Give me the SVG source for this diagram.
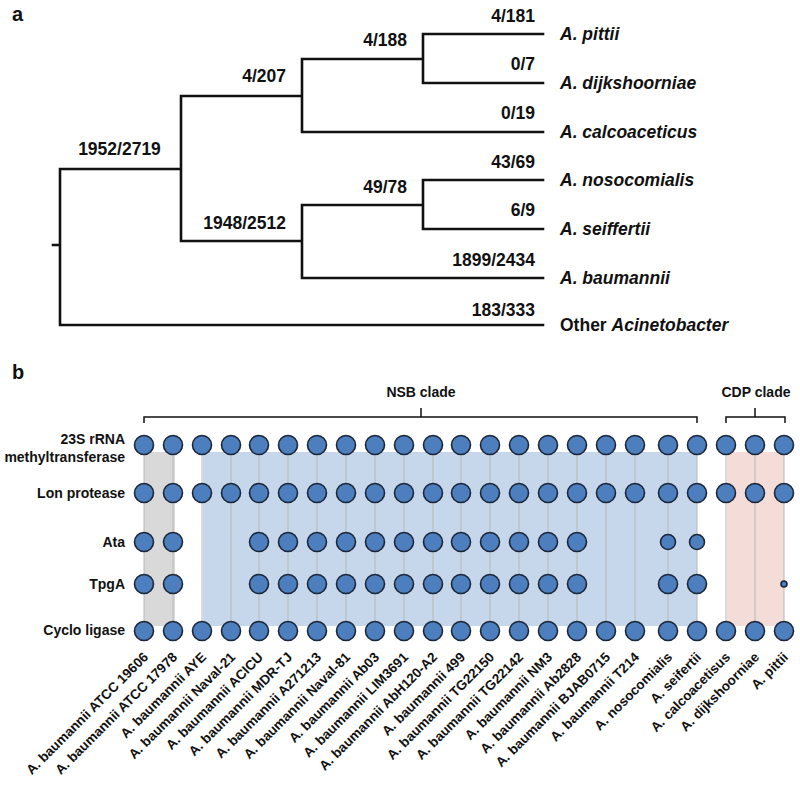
<svg xmlns="http://www.w3.org/2000/svg" width="800" height="787" viewBox="0 0 800 787">
<style>
text{font-family:"Liberation Sans",Arial,sans-serif;font-weight:bold;fill:#111}
.t{font-size:17.5px}
.sp{font-size:17.5px;font-style:italic}
.num{font-size:17.5px;text-anchor:end}
.panel{font-size:20px}
.row{font-size:14px;text-anchor:end}
.clade{font-size:14px;text-anchor:middle}
.col{font-size:13.5px;text-anchor:end}
.br{fill:none;stroke:#111;stroke-width:2.6;stroke-linecap:square}
.bk{fill:none;stroke:#111;stroke-width:1.5}
.vl{stroke:#b8b8b8;stroke-width:1}
.dot{fill:#4d7fbf;stroke:#1b2638;stroke-width:1.6}
</style>

<text class="panel" x="12" y="21">a</text>
<text class="panel" x="12" y="379">b</text>

<g id="tree">
<path class="br" d="M53,245H60M60,169V325M60,169H181M181,96V241M181,96H302M181,241H302M302,59V132M302,59H423M302,132H543M423,34V83M423,34H543M423,83H543M302,205V278M302,205H423M302,278H543M423,180V229M423,180H543M423,229H543M60,325H543"/>
</g>

<g id="tree-labels">
<text class="t" x="119.5" y="155" text-anchor="middle">1952/2719</text>
<text class="num" x="286" y="82">4/207</text>
<text class="num" x="286" y="229">1948/2512</text>
<text class="num" x="407" y="46">4/188</text>
<text class="num" x="407" y="193">49/78</text>
<text class="num" x="535" y="22">4/181</text>
<text class="num" x="535" y="70">0/7</text>
<text class="num" x="535" y="119">0/19</text>
<text class="num" x="535" y="168">43/69</text>
<text class="num" x="535" y="216">6/9</text>
<text class="num" x="535" y="266">1899/2434</text>
<text class="num" x="535" y="316">183/333</text>
</g>

<g id="species">
<text class="sp" x="560" y="40">A. pittii</text>
<text class="sp" x="560" y="89">A. dijkshoorniae</text>
<text class="sp" x="560" y="138">A. calcoaceticus</text>
<text class="sp" x="560" y="186">A. nosocomialis</text>
<text class="sp" x="560" y="235">A. seiffertii</text>
<text class="sp" x="560" y="284">A. baumannii</text>
<text class="t" x="560" y="331">Other <tspan font-style="italic">Acinetobacter</tspan></text>
</g>

<g id="shading">
<rect x="144" y="452" width="31" height="174" fill="#d9d9d9"/>
<rect x="203" y="452" width="494" height="174" fill="#c6d6eb"/>
<rect x="727" y="452" width="57" height="174" fill="#f4dcd8"/>
</g>

<g id="brackets">
<path class="bk" d="M144,423V417H697V423M421,417V408"/>
<path class="bk" d="M726,423V417H785V423M755,417V408"/>
<text class="clade" x="421" y="397">NSB clade</text>
<text class="clade" x="756" y="397">CDP clade</text>
</g>

<g id="row-labels">
<text class="row" x="125" y="444">23S rRNA</text>
<text class="row" x="125" y="462">methyltransferase</text>
<text class="row" x="125" y="498">Lon protease</text>
<text class="row" x="125" y="547">Ata</text>
<text class="row" x="125" y="589">TpgA</text>
<text class="row" x="125" y="635">Cyclo ligase</text>
</g>

<g id="connectors">
<path class="vl" d="M144,445V631M173,445V631M202,445V631M231,445V631M259,445V631M288,445V631M317,445V631M346,445V631M375,445V631M404,445V631M433,445V631M461,445V631M490,445V631M519,445V631M548,445V631M577,445V631M606,445V631M635,445V631M668,445V631M697,445V631M726,445V631M755,445V631M784,445V631"/>
</g>

<defs>
<g id="col5">
<circle class="dot" cx="0" cy="445" r="9.5"/>
<circle class="dot" cx="0" cy="493" r="9.5"/>
<circle class="dot" cx="0" cy="542" r="9.5"/>
<circle class="dot" cx="0" cy="584" r="9.5"/>
<circle class="dot" cx="0" cy="631" r="9.5"/>
</g>
<g id="col3">
<circle class="dot" cx="0" cy="445" r="9.5"/>
<circle class="dot" cx="0" cy="493" r="9.5"/>
<circle class="dot" cx="0" cy="631" r="9.5"/>
</g>
</defs>

<g id="dots">
<use href="#col5" x="144"/>
<use href="#col5" x="173"/>
<use href="#col3" x="202"/>
<use href="#col3" x="231"/>
<use href="#col5" x="259"/>
<use href="#col5" x="288"/>
<use href="#col5" x="317"/>
<use href="#col5" x="346"/>
<use href="#col5" x="375"/>
<use href="#col5" x="404"/>
<use href="#col5" x="433"/>
<use href="#col5" x="461"/>
<use href="#col5" x="490"/>
<use href="#col5" x="519"/>
<use href="#col5" x="548"/>
<use href="#col5" x="577"/>
<use href="#col3" x="606"/>
<use href="#col3" x="635"/>
<use href="#col3" x="668"/>
<circle class="dot" cx="668" cy="542" r="7.5"/>
<circle class="dot" cx="668" cy="584" r="9.5"/>
<use href="#col3" x="697"/>
<circle class="dot" cx="697" cy="542" r="7.5"/>
<circle class="dot" cx="697" cy="584" r="9.5"/>
<use href="#col3" x="726"/>
<use href="#col3" x="755"/>
<use href="#col3" x="784"/>
<circle class="dot" cx="784" cy="584" r="3"/>
</g>

<g id="column-labels">
<text class="col" transform="translate(149,658) rotate(-45)">A. baumannii ATCC 19606</text>
<text class="col" transform="translate(178,658) rotate(-45)">A. baumannii ATCC 17978</text>
<text class="col" transform="translate(207,658) rotate(-45)">A. baumannii AYE</text>
<text class="col" transform="translate(236,658) rotate(-45)">A. baumannii Naval-21</text>
<text class="col" transform="translate(264,658) rotate(-45)">A. baumannii ACICU</text>
<text class="col" transform="translate(293,658) rotate(-45)">A. baumannii MDR-TJ</text>
<text class="col" transform="translate(322,658) rotate(-45)">A. baumannii A271213</text>
<text class="col" transform="translate(351,658) rotate(-45)">A. baumannii Naval-81</text>
<text class="col" transform="translate(380,658) rotate(-45)">A. baumannii Ab03</text>
<text class="col" transform="translate(409,658) rotate(-45)">A. baumannii LIM3691</text>
<text class="col" transform="translate(438,658) rotate(-45)">A. baumannii AbH120-A2</text>
<text class="col" transform="translate(466,658) rotate(-45)">A. baumannii 499</text>
<text class="col" transform="translate(495,658) rotate(-45)">A. baumannii TG22150</text>
<text class="col" transform="translate(524,658) rotate(-45)">A. baumannii TG22142</text>
<text class="col" transform="translate(553,658) rotate(-45)">A. baumannii NM3</text>
<text class="col" transform="translate(582,658) rotate(-45)">A. baumannii Ab2828</text>
<text class="col" transform="translate(611,658) rotate(-45)">A. baumannii BJAB0715</text>
<text class="col" transform="translate(640,658) rotate(-45)">A. baumannii T214</text>
<text class="col" transform="translate(673,658) rotate(-45)">A. nosocomialis</text>
<text class="col" transform="translate(702,658) rotate(-45)">A. seifertii</text>
<text class="col" transform="translate(731,658) rotate(-45)">A. calcoacetisus</text>
<text class="col" transform="translate(760,658) rotate(-45)">A. dijkshoorniae</text>
<text class="col" transform="translate(789,658) rotate(-45)">A. pittii</text>
</g>
</svg>
